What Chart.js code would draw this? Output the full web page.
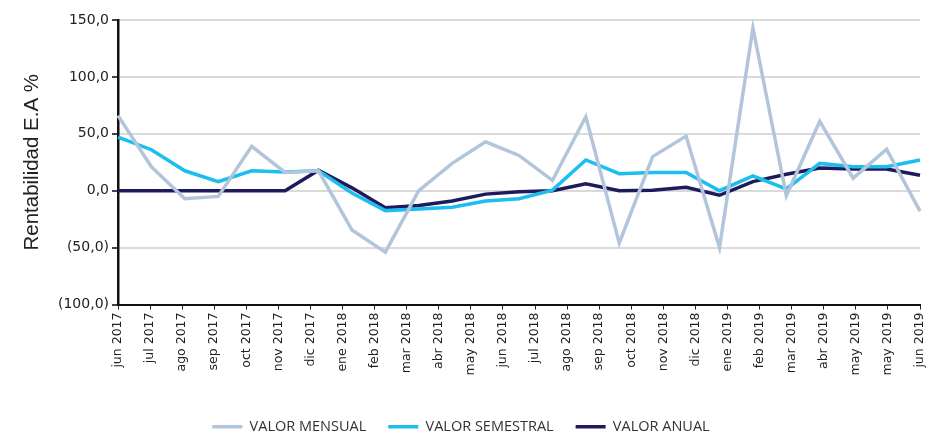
<!DOCTYPE html>
<html>
<head>
<meta charset="utf-8">
<script src="https://cdn.jsdelivr.net/npm/chart.js@4.4.1/dist/chart.umd.min.js"></script>
<style>
  html, body { margin: 0; padding: 0; background: #fff; }
  #caja { width: 938px; height: 435px; }
</style>
</head>
<body>
<div id="caja"><canvas id="grafico"></canvas></div>
<script>
// etiquetas del eje (tal cual aparecen, con may 2019 repetido)
const etiquetasEje = ["jun 2017", "jul 2017", "ago 2017", "sep 2017", "oct 2017", "nov 2017", "dic 2017",
  "ene 2018", "feb 2018", "mar 2018", "abr 2018", "may 2018", "jun 2018", "jul 2018", "ago 2018",
  "sep 2018", "oct 2018", "nov 2018", "dic 2018", "ene 2019", "feb 2019", "mar 2019", "abr 2019",
  "may 2019", "may 2019", "jun 2019"];

// meses de los datos (25 puntos)
const meses = ["jun 2017", "jul 2017", "ago 2017", "sep 2017", "oct 2017", "nov 2017", "dic 2017",
  "ene 2018", "feb 2018", "mar 2018", "abr 2018", "may 2018", "jun 2018", "jul 2018", "ago 2018",
  "sep 2018", "oct 2018", "nov 2018", "dic 2018", "ene 2019", "feb 2019", "mar 2019", "abr 2019",
  "may 2019", "jun 2019"];

const valorMensual = [66, 21, -7, -5, 39, 16, 17.5, -34.5, -54, 0, 24, 43, 31, 9, 65,
  -46, 30, 48, -50, 143, -4.5, 61, 11, 36.5, -18];
const valorSemestral = [47, 36, 17.5, 8, 17.5, 16.5, 17.5, -2, -17.5, -16, -14.5, -9, -7, 0.5, 27,
  15, 16, 16, 0, 13, 1.5, 24, 21, 21, 27];
const valorAnual = [0, 0, 0, 0, 0, 0, 18, 2.5, -15, -13, -9, -3, -1, 0, 6,
  0, 0.5, 3, -4, 8, 14.5, 20, 19, 19, 13.5];

const ticksY = [-100, -50, 0, 50, 100, 150];

function formato(v) {
  const txt = Math.abs(v).toFixed(1).replace(".", ",");
  return v < 0 ? "(" + txt + ")" : txt;
}

function serie(nombre, datos, color, ancho) {
  return {
    label: nombre,
    data: datos,
    borderColor: color,
    backgroundColor: color,
    borderWidth: ancho,
    pointRadius: 0,
    pointHoverRadius: 0,
    tension: 0,
    xAxisID: "xDatos"
  };
}

const ctx = document.getElementById("grafico").getContext("2d");
new Chart(ctx, {
  type: "line",
  data: {
    labels: meses,
    datasets: [
      serie("VALOR MENSUAL", valorMensual, "#b3c5db", 3.5),
      serie("VALOR SEMESTRAL", valorSemestral, "#1cbdef", 3.5),
      serie("VALOR ANUAL", valorAnual, "#1e1b5c", 3.5)
    ]
  },
  options: {
    responsive: true,
    maintainAspectRatio: false,
    animation: false,
    layout: { padding: { top: 20, right: 16, left: 0, bottom: -9 } },
    plugins: {
      tooltip: { enabled: false },
      legend: {
        position: "bottom",
        labels: {
          usePointStyle: true,
          pointStyle: "line",
          pointStyleWidth: 30,
          boxHeight: 4,
          padding: 22,
          color: "#333",
          font: { family: "Open Sans", size: 14.5 }
        }
      }
    },
    scales: {
      x: {
        type: "category",
        labels: etiquetasEje,
        offset: false,
        grid: { drawOnChartArea: false, drawTicks: true, tickLength: 5, tickColor: "#222", lineWidth: 1 },
        border: { display: true, color: "#111", width: 2 },
        ticks: {
          autoSkip: false,
          minRotation: 90,
          maxRotation: 90,
          padding: 3,
          color: "#222",
          font: { family: "DejaVu Sans", size: 12.5 }
        },
        afterFit: function (escala) { escala.height = 93; }
      },
      xDatos: {
        type: "category",
        labels: meses,
        offset: false,
        display: false
      },
      y: {
        min: -100,
        max: 150,
        afterBuildTicks: function (escala) { escala.ticks = ticksY.map(v => ({ value: v })); },
        grid: { color: "#dadada", lineWidth: 2, drawTicks: true, tickLength: 6, tickColor: "#444" },
        border: { display: true, color: "#111", width: 2.5 },
        ticks: {
          callback: v => formato(v),
          padding: 3,
          color: "#222",
          font: { family: "DejaVu Sans", size: 14 }
        },
        title: {
          display: true,
          text: "Rentabilidad E.A %",
          color: "#222",
          padding: { top: 20, bottom: 0 },
          font: { family: "Liberation Sans", size: 20.5 }
        },
        afterFit: function (escala) { escala.width = 118; }
      }
    }
  }
});
</script>
</body>
</html>
